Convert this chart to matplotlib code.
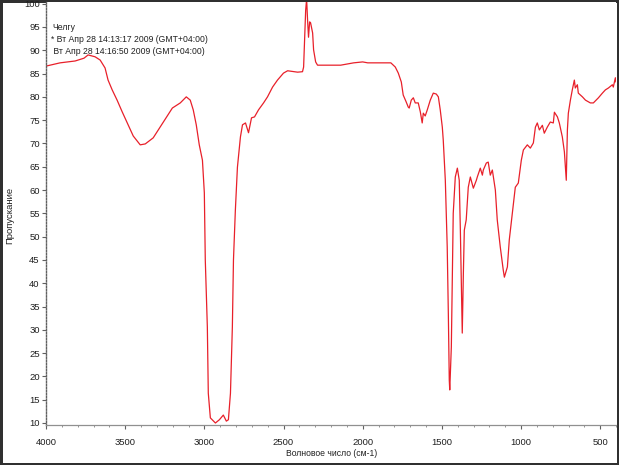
import numpy as np
import matplotlib.pyplot as plt
from matplotlib.ticker import MultipleLocator

# spectrum: wavenumber (cm-1) and transmittance (%)
wavenumber = [4000, 3911, 3816, 3760, 3734, 3690, 3658, 3627, 3608, 3582,
              3551, 3519, 3487, 3449, 3405, 3373, 3323, 3259, 3202, 3152,
              3114, 3089, 3070, 3051, 3032, 3012, 3000, 2994, 2981, 2975,
              2962, 2930, 2905, 2880, 2861, 2848, 2835, 2823, 2816, 2804,
              2791, 2772, 2759, 2740, 2721, 2702, 2683, 2658, 2626, 2601,
              2569, 2538, 2500, 2474, 2411, 2380, 2373, 2367, 2360, 2354,
              2348, 2342, 2335, 2329, 2316, 2310, 2297, 2285, 2139, 2057,
              2000, 1968, 1822, 1794, 1775, 1756, 1744, 1725, 1712, 1706,
              1693, 1680, 1668, 1649, 1636, 1624, 1617, 1605, 1592, 1573,
              1554, 1535, 1522, 1510, 1497, 1491, 1478, 1466, 1459, 1453,
              1450, 1440, 1434, 1428, 1415, 1402, 1390, 1383, 1377, 1371,
              1364, 1358, 1346, 1333, 1320, 1301, 1282, 1276, 1257, 1244,
              1238, 1219, 1207, 1194, 1181, 1162, 1150, 1131, 1112, 1105,
              1086, 1074, 1055, 1036, 1017, 998, 985, 960, 941, 922,
              909, 897, 884, 865, 853, 834, 815, 796, 789, 770,
              758, 739, 726, 714, 707, 701, 688, 676, 663, 657,
              644, 638, 612, 593, 562, 543, 511, 486, 467, 448,
              423, 417, 404, 400]
transmittance = [86.6, 87.3, 87.7, 88.3, 89.0, 88.6, 87.9, 86.2, 83.6, 81.5,
                 79.3, 76.8, 74.4, 71.6, 69.7, 69.9, 71.2, 74.6, 77.6, 78.7,
                 80.0, 79.3, 77.2, 74.0, 69.7, 66.4, 59.4, 45.0, 30.6, 16.4,
                 11.1, 10.0, 10.7, 11.7, 10.4, 10.7, 16.4, 30.6, 45.0, 55.7,
                 64.9, 71.4, 74.0, 74.4, 72.3, 75.5, 75.7, 77.2, 78.7, 80.0,
                 82.1, 83.6, 85.1, 85.6, 85.3, 85.4, 86.4, 92.2, 98.6, 101.0,
                 96.5, 92.8, 96.1, 95.9, 93.7, 90.1, 87.5, 86.8, 86.8, 87.3,
                 87.5, 87.3, 87.3, 86.4, 85.1, 83.2, 80.4, 78.9, 77.8, 77.6,
                 79.3, 79.8, 78.7, 78.7, 76.8, 74.4, 76.5, 75.9, 77.2, 79.3,
                 80.8, 80.6, 80.0, 77.2, 73.5, 70.7, 62.1, 47.8, 33.6, 19.2,
                 17.1, 26.3, 40.7, 55.0, 62.8, 64.7, 62.1, 51.4, 40.7, 29.3,
                 42.2, 51.4, 53.6, 60.6, 62.8, 60.4, 62.1, 62.8, 64.7, 63.2,
                 64.3, 65.8, 66.0, 63.2, 64.3, 60.0, 53.6, 47.8, 42.8, 41.3,
                 43.5, 49.3, 55.0, 60.6, 61.5, 66.4, 68.6, 69.7, 69.0, 70.1,
                 73.5, 74.4, 72.9, 73.9, 72.2, 73.5, 74.6, 74.4, 76.7, 75.7,
                 74.4, 71.4, 68.2, 62.1, 72.9, 76.5, 79.3, 81.5, 83.6, 81.9,
                 82.6, 80.8, 80.0, 79.3, 78.7, 78.7, 79.8, 80.8, 81.5, 81.9,
                 82.6, 82.1, 84.1, 83.2]

header_lines = ['Челгу',
                '* Вт Апр 28 14:13:17 2009 (GMT+04:00)',
                ' Вт Апр 28 14:16:50 2009 (GMT+04:00)']

plt.rcParams['font.family'] = ['Liberation Sans Narrow', 'Liberation Sans', 'DejaVu Sans']

fig = plt.figure(figsize=(6.19, 4.65), dpi=100, linewidth=2.5, edgecolor='#303030')
ax = fig.add_axes([46/619, 40/465, 570/619, 423/465])

ax.plot(wavenumber, transmittance, '-', color='#e8202a', linewidth=0.9)

ax.set_xlim(4000, 400)
ax.set_ylim(9.57, 100.36)
ax.xaxis.set_major_locator(MultipleLocator(500))
ax.xaxis.set_minor_locator(MultipleLocator(100))
ax.yaxis.set_major_locator(MultipleLocator(5))

for side in ['top', 'right']:
    ax.spines[side].set_visible(False)
ax.spines['left'].set_color('#606060')
ax.spines['left'].set_linestyle((0, (1, 1.2)))
ax.spines['left'].set_linewidth(1.0)
ax.spines['bottom'].set_color('#909090')
ax.spines['bottom'].set_linewidth(0.9)

ax.tick_params(axis='y', which='major', length=3, width=0.8, color='#606060',
               labelsize=6.8, pad=1.5, labelcolor='#202020')
ax.tick_params(axis='x', which='major', length=3, width=0.8, color='#606060',
               labelsize=6.8, pad=6, labelcolor='#202020')
ax.tick_params(axis='x', which='minor', length=1.5, width=0.6, color='#808080')

fig.text(52/619, 1 - 27/465, header_lines[0], fontsize=6.2, va='center', ha='left', color='#202020')
fig.text(51/619, 1 - 39/465, header_lines[1], fontsize=6.2, va='center', ha='left', color='#202020')
fig.text(51/619, 1 - 51/465, header_lines[2], fontsize=6.2, va='center', ha='left', color='#202020')

fig.text(10/619, 1 - 215/465, 'Пропускание', rotation=90, fontsize=6.8,
         va='center', ha='center', color='#202020')
fig.text(332/619, 1 - 453/465, 'Волновое число (см-1)', fontsize=6.2,
         va='center', ha='center', color='#202020')

fig.savefig('out.png', dpi=100)
